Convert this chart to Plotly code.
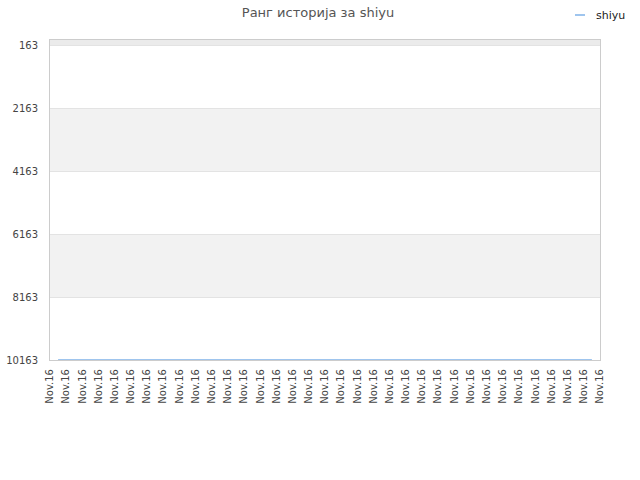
import plotly.graph_objects as go

title_text = "Ранг историја за shiyu"
series_name = "shiyu"
x_labels = ["Nov.16"] * 35
rank_values = [10163] * 34
y_ticks = [163, 2163, 4163, 6163, 8163, 10163]
y_top = 4

x_pos = [i + 0.5 for i in range(len(rank_values))]

L, R, T, B = 50, 40, 40, 120
PW, PH = 640 - L - R, 480 - T - B

def px(sx):
    return (sx - L) / PW

def py(sy):
    return (480 - sy - B) / PH

fig = go.Figure()
fig.add_trace(go.Scatter(
    x=x_pos, y=rank_values, mode="lines", name=series_name,
    line=dict(color="#9fc5ee", width=2), showlegend=False, cliponaxis=False,
))

shapes = []
shapes.append(dict(type="rect", xref="paper", yref="y", x0=0, x1=1, y0=y_top, y1=y_ticks[0],
                   fillcolor="#ebebeb", line_width=0, layer="below"))
for i in range(1, len(y_ticks) - 1, 2):
    shapes.append(dict(type="rect", xref="paper", yref="y", x0=0, x1=1,
                       y0=y_ticks[i], y1=y_ticks[i + 1],
                       fillcolor="#f2f2f2", line_width=0, layer="below"))
shapes.append(dict(type="line", xref="paper", yref="paper", x0=px(575), x1=px(585),
                   y0=py(15), y1=py(15), line=dict(color="#9fc5ee", width=2)))

fig.update_layout(
    width=640, height=480,
    margin=dict(l=L, r=R, t=T, b=B),
    paper_bgcolor="white", plot_bgcolor="white",
    title=dict(text=title_text, x=318 / 640, xanchor="center",
               y=1 - 12 / 480, yanchor="middle",
               font=dict(family="DejaVu Sans", size=13, color="#555555")),
    font=dict(family="DejaVu Sans", size=10, color="#333333"),
    shapes=shapes,
    annotations=[dict(text=series_name, xref="paper", yref="paper",
                      x=px(594), y=py(15), xanchor="left", yanchor="middle",
                      showarrow=False, font=dict(family="DejaVu Sans", size=11, color="#222222"))],
    xaxis=dict(range=[0, len(x_labels) - 1], tickmode="array",
               tickvals=list(range(len(x_labels))), ticktext=x_labels, tickangle=-90,
               showgrid=False, zeroline=False, showline=True, mirror=True, linecolor="#cccccc",
               layer="below traces", ticks="", automargin=False, ticklabelstandoff=4,
               tickfont=dict(size=10, color="#444444")),
    yaxis=dict(range=[y_ticks[-1], y_top], tickmode="array", tickvals=y_ticks,
               ticktext=[str(v) for v in y_ticks], showgrid=True, gridcolor="#e3e3e3",
               zeroline=False, showline=True, mirror=True, linecolor="#cccccc",
               layer="below traces", ticks="", automargin=False, ticklabelstandoff=9,
               tickfont=dict(size=10, color="#444444")),
)

fig.write_html("out.html", config={"displayModeBar": False},
               post_script="document.body.style.margin='0';")
